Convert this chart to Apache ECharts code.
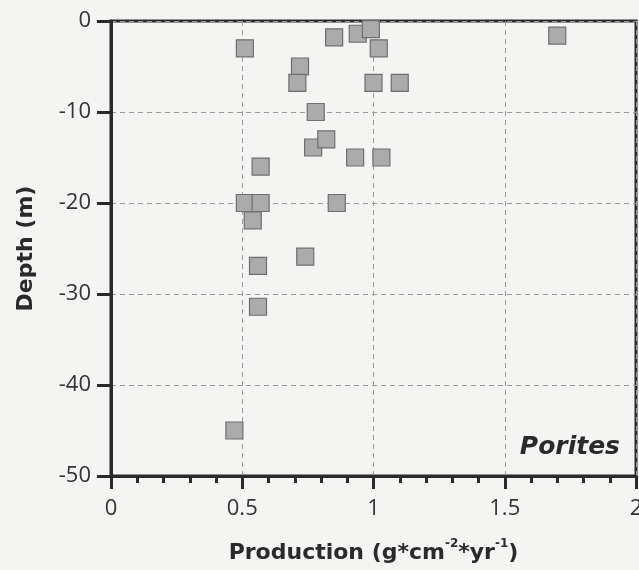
<!DOCTYPE html>
<html>
<head>
<meta charset="utf-8">
<script src="https://cdn.jsdelivr.net/npm/echarts@6/dist/echarts.min.js"></script>
<style>
  html, body { margin: 0; padding: 0; background: #f4f4f2; }
  #chart { width: 639px; height: 570px; }
</style>
</head>
<body>
<div id="chart"></div>
<script>
// Porites calcification (production) versus depth
const production = [0.51, 0.72, 0.71, 0.85, 0.94, 0.99, 1.02, 1.00, 1.10, 1.70,
                    0.78, 0.77, 0.82, 0.93, 1.03, 0.57, 0.51, 0.57, 0.86, 0.54,
                    0.74, 0.56, 0.56, 0.47];
const depth      = [-3.0, -5.0, -6.8, -1.8, -1.4, -0.9, -3.0, -6.8, -6.8, -1.6,
                    -10.0, -13.9, -13.0, -15.0, -15.0, -16.0, -20.0, -20.0, -20.0, -21.9,
                    -25.9, -26.9, -31.4, -45.0];
const xTicks = [0, 0.5, 1, 1.5, 2];
const yTicks = [0, -10, -20, -30, -40, -50];
const taxon = 'Porites';

const points = production.map((p, i) => [p, depth[i]]);
const FONT = '"Open Sans", "DejaVu Sans", sans-serif';
const BOLD = '"DejaVu Sans", sans-serif';

const chart = echarts.init(document.getElementById('chart'), null, { renderer: 'canvas' });
chart.setOption({
  backgroundColor: '#f4f4f2',
  animation: false,
  title: {
    text: taxon,
    right: 14,
    top: 430,
    textStyle: { fontFamily: BOLD, fontSize: 25, fontWeight: 'bold', fontStyle: 'italic', color: '#2a2a2a' }
  },
  grid: {
    left: 111, right: 3, top: 21, bottom: 94,
    outerBoundsMode: 'none',
    containLabel: false,
    show: true, borderColor: '#2a2a2a', borderWidth: 3, backgroundColor: 'transparent'
  },
  xAxis: {
    type: 'value',
    min: xTicks[0], max: xTicks[xTicks.length - 1], interval: 0.5,
    name: '{t|Production (g*cm}{s|-2}{t|*yr}{s|-1}{t|)}',
    nameLocation: 'middle',
    nameGap: 62,
    nameTextStyle: {
      rich: {
        t: { fontFamily: BOLD, fontSize: 22, fontWeight: 'bold', color: '#2a2a2a', lineHeight: 26, verticalAlign: 'bottom' },
        s: { fontFamily: BOLD, fontSize: 12, fontWeight: 'bold', color: '#2a2a2a', lineHeight: 26, verticalAlign: 'top' }
      }
    },
    axisLine: { show: true, onZero: false, lineStyle: { color: '#2a2a2a', width: 3 } },
    axisTick: { show: true, length: 13, lineStyle: { color: '#2a2a2a', width: 3 } },
    minorTick: { show: true, splitNumber: 5, length: 7, lineStyle: { color: '#2a2a2a', width: 3 } },
    axisLabel: { margin: 22, fontFamily: FONT, fontSize: 22, color: '#333',
      formatter: v => String(v) },
    splitLine: { show: true, lineStyle: { color: '#9a9a9a', type: [5, 4], width: 1 } }
  },
  yAxis: {
    type: 'value',
    min: yTicks[yTicks.length - 1], max: yTicks[0], interval: 10,
    name: 'Depth (m)',
    nameLocation: 'middle',
    nameGap: 74,
    nameTextStyle: { fontFamily: BOLD, fontSize: 22, fontWeight: 'bold', color: '#2a2a2a' },
    axisLine: { show: true, onZero: false, lineStyle: { color: '#2a2a2a', width: 3 } },
    axisTick: { show: true, length: 14, lineStyle: { color: '#2a2a2a', width: 3 } },
    axisLabel: { margin: 20, fontFamily: FONT, fontSize: 22, color: '#333' },
    splitLine: { show: true, lineStyle: { color: '#9a9a9a', type: [5, 4], width: 1 } }
  },
  series: [{
    type: 'scatter',
    data: points,
    clip: false,
    symbol: 'rect',
    symbolSize: 17,
    itemStyle: { color: '#ababab', borderColor: '#6e6e6e', borderWidth: 1.2, opacity: 1 }
  }]
});
</script>
</body>
</html>
